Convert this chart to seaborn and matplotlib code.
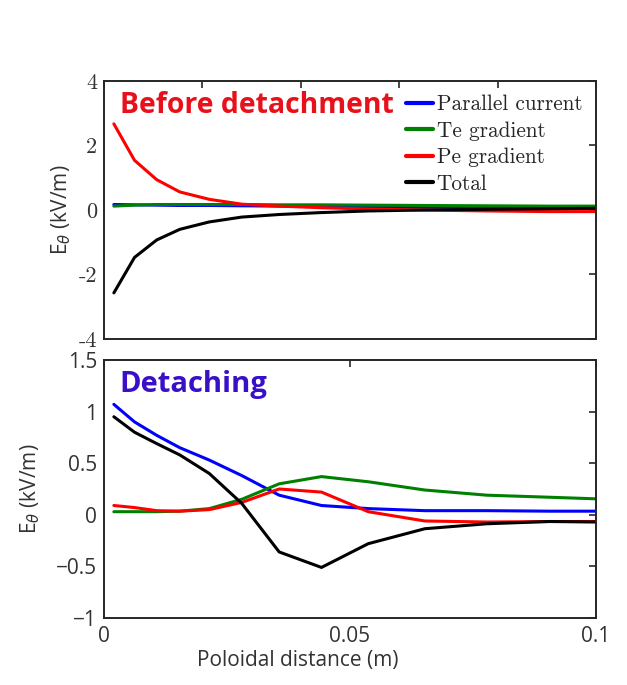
import numpy as np
import pandas as pd
import seaborn as sns
import matplotlib.pyplot as plt

# poloidal distance of the grid cells (m)
dist = [0.002, 0.0062, 0.0107, 0.0154, 0.0214, 0.028, 0.0356,
        0.0442, 0.0537, 0.0652, 0.0778, 0.0906, 0.0998]

# before detachment (kV/m)
pre_par = [0.17, 0.16, 0.15, 0.14, 0.14, 0.13, 0.12, 0.11, 0.10, 0.09, 0.08, 0.07, 0.07]
pre_te = [0.12, 0.15, 0.17, 0.17, 0.17, 0.17, 0.16, 0.16, 0.15, 0.14, 0.13, 0.12, 0.12]
pre_pe = [2.67, 1.54, 0.94, 0.56, 0.33, 0.18, 0.12, 0.07, 0.03, 0.0, -0.03, -0.05, -0.05]
pre_tot = [-2.57, -1.47, -0.93, -0.60, -0.37, -0.22, -0.14, -0.08, -0.03, 0.0, 0.02, 0.04, 0.05]

# detaching (kV/m)
det_par = [1.07, 0.90, 0.77, 0.65, 0.53, 0.38, 0.19, 0.09, 0.06, 0.04, 0.04, 0.035, 0.035]
det_te = [0.03, 0.03, 0.03, 0.035, 0.06, 0.15, 0.30, 0.37, 0.32, 0.24, 0.19, 0.17, 0.155]
det_pe = [0.09, 0.07, 0.04, 0.035, 0.05, 0.12, 0.25, 0.22, 0.03, -0.06, -0.07, -0.065, -0.065]
det_tot = [0.95, 0.80, 0.69, 0.58, 0.40, 0.11, -0.36, -0.51, -0.28, -0.135, -0.087, -0.065, -0.07]

terms = ['Parallel current', 'Te gradient', 'Pe gradient', 'Total']
colors = ['#0000ff', '#008000', '#ff0000', '#000000']

def to_long(cols):
    frames = []
    for name, vals in zip(terms, cols):
        frames.append(pd.DataFrame({'x': dist, 'E': vals, 'term': name}))
    return pd.concat(frames, ignore_index=True)

df_pre = to_long([pre_par, pre_te, pre_pe, pre_tot])
df_det = to_long([det_par, det_te, det_pe, det_tot])

sns.set_style('white')
plt.rcParams['font.family'] = ['Open Sans', 'DejaVu Sans']
plt.rcParams['mathtext.fontset'] = 'dejavusans'
plt.rcParams['axes.unicode_minus'] = False

spine_col = '#262626'
fig = plt.figure(figsize=(6.27, 6.85), dpi=100)
ax1 = fig.add_axes([0.1659, 0.5051, 0.7847, 0.3767])
ax2 = fig.add_axes([0.1659, 0.0978, 0.7847, 0.3767])

pal = dict(zip(terms, colors))
sns.lineplot(data=df_pre, x='x', y='E', hue='term', palette=pal, ax=ax1, lw=2.2)
sns.lineplot(data=df_det, x='x', y='E', hue='term', palette=pal, ax=ax2, lw=2.2, legend=False)

for ax in (ax1, ax2):
    ax.set_xlim(0, 0.1)
    for s in ax.spines.values():
        s.set_color(spine_col)
        s.set_linewidth(1.4)
    ax.tick_params(direction='in', top=True, right=True, length=5, width=1.2,
                   color=spine_col, labelcolor='#333333', labelsize=15, pad=5)

# top panel
ax1.set_ylim(-4, 4)
ax1.set_yticks([-4, -2, 0, 2, 4])
ax1.set_xticks([0, 0.02, 0.04, 0.06, 0.08, 0.1])
ax1.set_xticklabels([])
for lab in ax1.get_yticklabels():
    lab.set_family('cmr10')
    lab.set_fontsize(16)
ax1.set_xlabel('')
ax1.set_ylabel(r'E$_\theta$ (kV/m)', fontsize=15, color='#333333', labelpad=4)
leg = ax1.legend(loc='upper right', frameon=False, handlelength=1.3, handletextpad=0.15,
                 labelspacing=0.33, borderaxespad=0.25,
                 prop={'family': 'cmr10', 'size': 15.3})
for line in leg.get_lines():
    line.set_linewidth(3)
ax1.text(0.032, 0.905, 'Before detachment', transform=ax1.transAxes, color='#e8101a',
         fontsize=20.4, fontweight='bold', va='center', ha='left')

# bottom panel
ax2.set_ylim(-1, 1.5)
ax2.set_yticks([-1, -0.5, 0, 0.5, 1, 1.5])
ax2.set_yticklabels(['\u22121', '\u22120.5', '0', '0.5', '1', '1.5'])
ax2.set_xticks([0, 0.05, 0.1])
ax2.set_xticklabels(['0', '0.05', '0.1'])
ax2.tick_params(axis='x', pad=6)
ax2.set_ylabel(r'E$_\theta$ (kV/m)', fontsize=15, color='#333333', labelpad=10)
ax2.set_xlabel('Poloidal distance (m)', fontsize=15, color='#333333')
ax2.xaxis.set_label_coords(0.393, -0.125)
ax2.text(0.032, 0.905, 'Detaching', transform=ax2.transAxes, color='#3a0fc8',
         fontsize=21, fontweight='bold', va='center', ha='left')

fig.savefig('out.png', dpi=100)
